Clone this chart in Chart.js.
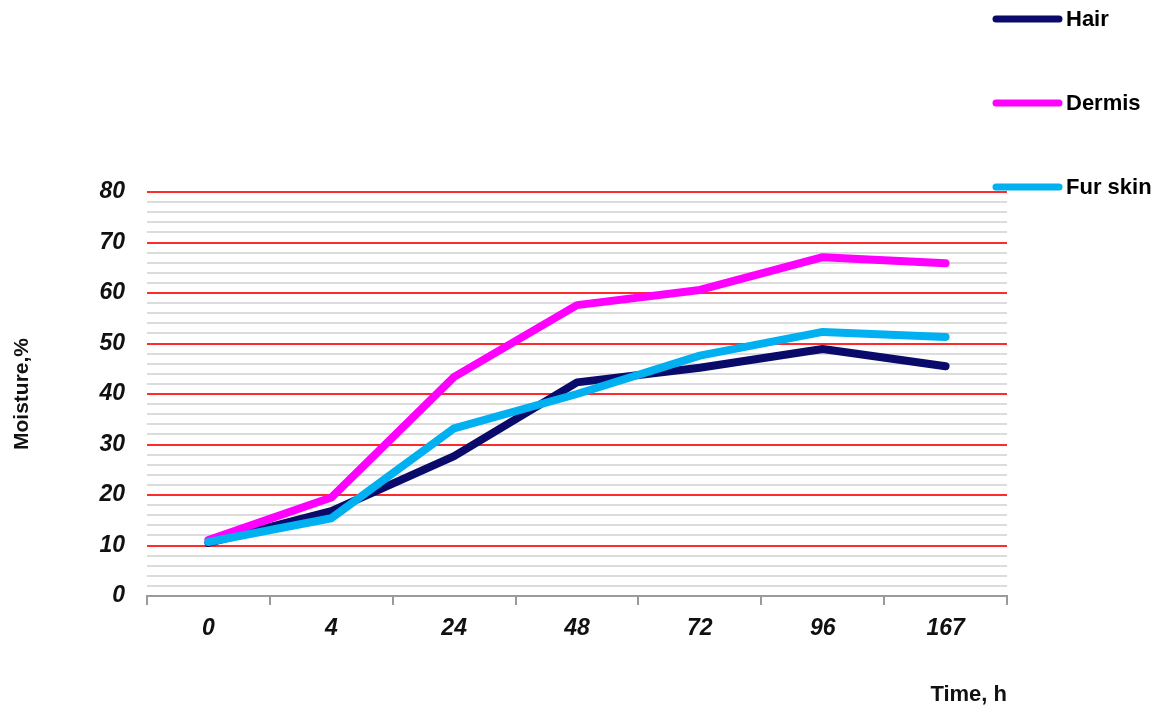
<!DOCTYPE html>
<html lang="en">
<head>
  <meta charset="UTF-8">
  <title>Moisture over time</title>
  <script src="https://cdn.jsdelivr.net/npm/chart.js"></script>
  <style>
    html, body {
      margin: 0;
      padding: 0;
      background: white;
    }
    .wrap {
      width: 1169px;
      height: 712px;
    }
  </style>
</head>
<body>

<div class="wrap">
  <canvas id="moistureChart" width="1169" height="712"></canvas>
</div>

<script>
const hours = ["0", "4", "24", "48", "72", "96", "167"];
const hair = [10.5, 16.8, 27.7, 42.3, 45.2, 48.9, 45.5];
const dermis = [11.1, 19.5, 43.4, 57.6, 60.6, 67.1, 65.9];
const furSkin = [10.7, 15.4, 33.2, 40.0, 47.6, 52.3, 51.3];
const seriesNames = ["Hair", "Dermis", "Fur skin"];
const seriesColors = ["#0a0a6b", "#ff00ff", "#00b0f0"];

// legend drawn by hand up in the top right corner, like the original
const cornerLegend = {
  id: "cornerLegend",
  afterDraw(chart) {
    const ctx = chart.ctx;
    const rows = [19, 103, 187];
    ctx.save();
    ctx.lineCap = "round";
    ctx.font = "bold 22px Arial, 'Liberation Sans', sans-serif";
    ctx.textBaseline = "middle";
    ctx.fillStyle = "#000";
    chart.data.datasets.forEach((ds, i) => {
      const y = rows[i];
      ctx.strokeStyle = ds.borderColor;
      ctx.lineWidth = 7;
      ctx.beginPath();
      ctx.moveTo(996, y);
      ctx.lineTo(1059, y);
      ctx.stroke();
      ctx.fillText(ds.label, 1066, y + 1);
    });
    ctx.restore();
  }
};

const lineSet = (i, data, order) => ({
  label: seriesNames[i],
  data: data,
  borderColor: seriesColors[i],
  backgroundColor: seriesColors[i],
  borderWidth: 8,
  pointRadius: 0,
  tension: 0,
  borderCapStyle: "round",
  borderJoinStyle: "round",
  order: order
});

const tickFont = { family: "Arial, 'Liberation Sans'", size: 23, weight: "bold", style: "italic" };

new Chart(document.getElementById("moistureChart"), {
  type: "line",
  data: {
    labels: hours,
    datasets: [
      lineSet(0, hair, 2),
      lineSet(1, dermis, 1),
      lineSet(2, furSkin, 0)
    ]
  },
  options: {
    responsive: false,
    animation: false,
    layout: {
      padding: { top: 192, right: 162, left: 0, bottom: 0 }
    },
    plugins: {
      legend: { display: false },
      tooltip: { enabled: false }
    },
    scales: {
      x: {
        offset: true,
        border: { display: true, color: "#9a9a9a", width: 2 },
        grid: {
          display: true,
          drawOnChartArea: false,
          drawTicks: true,
          tickLength: 9,
          color: "#9a9a9a",
          lineWidth: 2,
          offset: true
        },
        ticks: {
          color: "#111",
          padding: 10,
          font: tickFont
        },
        title: {
          display: true,
          text: "Time, h",
          align: "end",
          color: "#111",
          font: { family: "Arial, 'Liberation Sans'", size: 22, weight: "bold" },
          padding: { top: 38 }
        },
        afterFit: s => { s.height = 116; }
      },
      y: {
        min: 0,
        max: 80,
        border: { display: false },
        grid: {
          drawTicks: false,
          lineWidth: 2,
          color: c => (c.tick && c.tick.value % 10 === 0) ? (c.tick.value === 0 ? "rgba(0,0,0,0)" : "#ff2a2a") : "#dcdcdc"
        },
        ticks: {
          stepSize: 2,
          autoSkip: false,
          padding: 22,
          color: "#111",
          font: tickFont,
          callback: v => (v % 10 === 0 ? v : "")
        },
        title: {
          display: true,
          text: "Moisture,%",
          color: "#111",
          font: { family: "Arial, 'Liberation Sans'", size: 21, weight: "bold" },
          padding: { top: 10, bottom: 0 }
        },
        afterFit: s => { s.width = 147; }
      }
    }
  },
  plugins: [cornerLegend]
});
</script>

</body>
</html>
